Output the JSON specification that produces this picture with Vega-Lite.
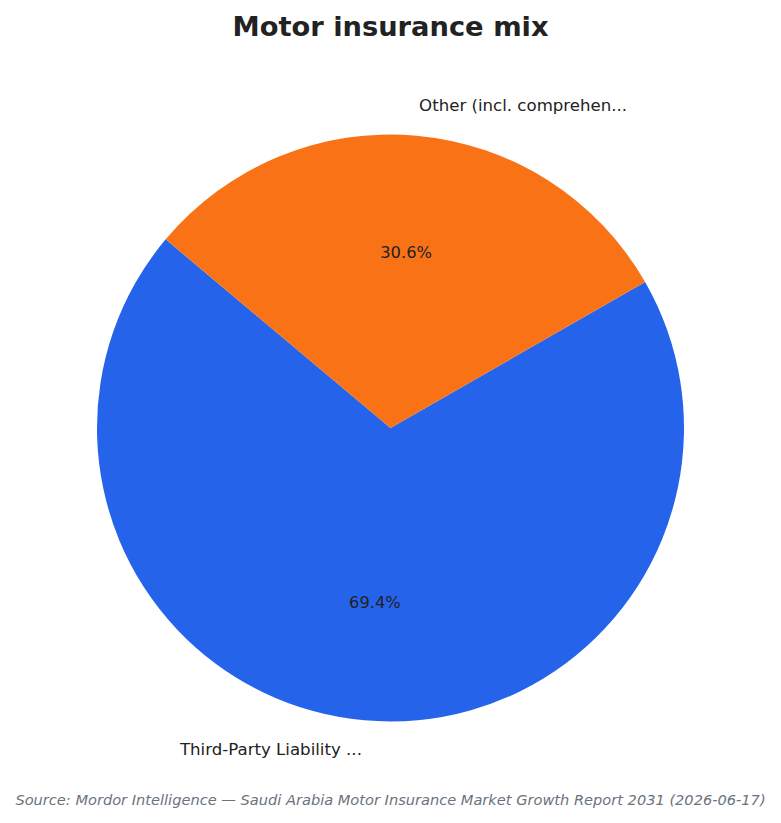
{
  "$schema": "https://vega.github.io/schema/vega-lite/v6.json",
  "background": "white",
  "autosize": {"type": "pad"},
  "padding": {"left": 0, "right": 0, "top": 13, "bottom": 6},
  "spacing": 0,
  "bounds": "flush",
  "title": {
    "text": "Motor insurance mix",
    "font": "DejaVu Sans",
    "fontSize": 27.3,
    "fontWeight": "bold",
    "color": "#222222",
    "anchor": "middle",
    "offset": 7
  },
  "vconcat": [
    {
      "width": 781,
      "height": 760,
      "data": {
        "values": [
          {"segment": "Third-Party Liability ...", "share": 0.694},
          {"segment": "Other (incl. comprehen...", "share": 0.306}
        ]
      },
      "encoding": {
        "theta": {
          "field": "share",
          "type": "quantitative",
          "stack": true,
          "scale": {"range": [-0.87266, 5.41052]}
        },
        "order": {"field": "share", "type": "quantitative", "sort": "ascending"}
      },
      "layer": [
        {
          "mark": {"type": "arc", "outerRadius": 293.5},
          "encoding": {
            "color": {
              "field": "segment",
              "type": "nominal",
              "scale": {
                "domain": ["Other (incl. comprehen...", "Third-Party Liability ..."],
                "range": ["#f97316", "#2563eb"]
              },
              "legend": null
            }
          }
        },
        {
          "mark": {
            "type": "text",
            "radius": 176.1,
            "font": "DejaVu Sans",
            "fontSize": 16.3,
            "color": "#222222",
            "baseline": "middle"
          },
          "encoding": {
            "text": {"field": "share", "type": "quantitative", "format": ".1%"}
          }
        },
        {
          "mark": {
            "type": "text",
            "radius": 322.9,
            "font": "DejaVu Sans",
            "fontSize": 16.6,
            "color": "#222222",
            "baseline": "middle",
            "align": {"expr": "datum.share > 0.5 ? 'right' : 'left'"}
          },
          "encoding": {
            "text": {"field": "segment", "type": "nominal"}
          }
        }
      ]
    },
    {
      "width": 781,
      "height": 10,
      "data": {
        "values": [
          {"note": "Source: Mordor Intelligence — Saudi Arabia Motor Insurance Market Growth Report 2031 (2026-06-17)"}
        ]
      },
      "mark": {
        "type": "text",
        "font": "DejaVu Sans",
        "fontSize": 14.6,
        "fontStyle": "italic",
        "color": "#6b7280",
        "baseline": "middle",
        "dy": -12
      },
      "encoding": {
        "text": {"field": "note", "type": "nominal"}
      }
    }
  ],
  "config": {"view": {"stroke": null}}
}
